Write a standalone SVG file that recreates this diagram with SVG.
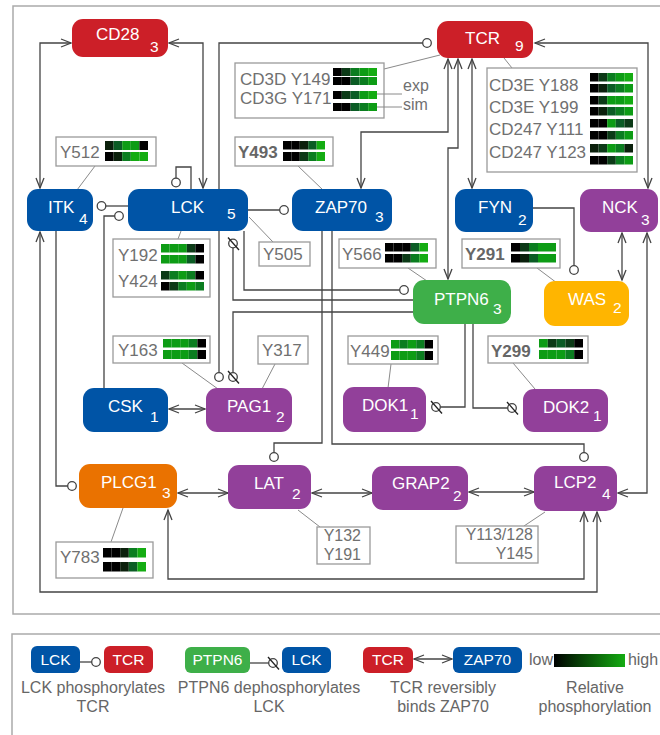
<svg xmlns="http://www.w3.org/2000/svg" width="660" height="735" viewBox="0 0 660 735">
<style>
.frame{fill:none;stroke:#aaa;stroke-width:1.5}
.nb{fill:#0054a6}.nr{fill:#cc1f28}.np{fill:#92409a}.ng{fill:#3eaf49}.no{fill:#ea7200}.ny{fill:#ffb500}
.nt{font-family:"Liberation Sans",Arial,sans-serif;font-size:17px;fill:#fff}
.ns{font-family:"Liberation Sans",Arial,sans-serif;font-size:15.5px;fill:#fff}
.lt{font-family:"Liberation Sans",Arial,sans-serif;font-size:15.5px;fill:#fff;text-anchor:middle}
.box{fill:#fff;stroke:#9a9a9a;stroke-width:1.3}
.at{font-family:"Liberation Sans",Arial,sans-serif;font-size:17px;fill:#707070}
.at2{font-family:"Liberation Sans",Arial,sans-serif;font-size:16px;fill:#707070}
.atb{font-family:"Liberation Sans",Arial,sans-serif;font-size:17px;fill:#666;font-weight:bold}
.cap{font-family:"Liberation Sans",Arial,sans-serif;font-size:16px;fill:#666;text-anchor:middle}
.c{fill:none;stroke:#444;stroke-width:1.3}
.ann{fill:none;stroke:#8a8a8a;stroke-width:1}
.k{fill:#000}.d1{fill:#0b200c}.d2{fill:#0c3a17}.d3{fill:#0b5c25}.m{fill:#0b7d20}.g{fill:#0d9c15}.b{fill:#14ac12}
</style>
<defs>
<marker id="arr" viewBox="0 0 10 10" refX="10" refY="5" markerWidth="10" markerHeight="10" markerUnits="userSpaceOnUse" orient="auto-start-reverse" overflow="visible"><path d="M0,1 L10,5 L0,9" fill="none" stroke="#444" stroke-width="1.3"/></marker>
<marker id="ph" viewBox="-6 -6 12 12" refX="0" refY="0" markerWidth="12" markerHeight="12" markerUnits="userSpaceOnUse" orient="0" overflow="visible"><circle r="4.3" fill="#fff" stroke="#444" stroke-width="1.3"/></marker>
<marker id="dp" viewBox="-7 -7 14 14" refX="0" refY="0" markerWidth="14" markerHeight="14" markerUnits="userSpaceOnUse" orient="0" overflow="visible"><circle r="4.3" fill="#fff" stroke="#444" stroke-width="1.3"/><path d="M-5,-6 L6,6.5" stroke="#222" stroke-width="1.3"/></marker>
<linearGradient id="grad" x1="0" x2="1" y1="0" y2="0"><stop offset="0" stop-color="#000"/><stop offset="1" stop-color="#14ac12"/></linearGradient>
</defs>
<rect class="frame" x="13" y="6" width="700" height="608"/>
<rect class="frame" x="12" y="634" width="700" height="130"/>

<g id="connectors">
<path class="c" d="M40,188 V43 H71" marker-start="url(#arr)" marker-end="url(#arr)"/>
<path class="c" d="M203,188 V43 H169" marker-start="url(#arr)" marker-end="url(#arr)"/>
<path class="c" d="M191,189 V167 H176 V182.5" marker-end="url(#ph)"/>
<path class="c" d="M219,189 V43 H427" marker-end="url(#ph)"/>
<path class="c" d="M128,206 H101.5" marker-end="url(#ph)"/>
<path class="c" d="M104,388 V216 H119" marker-end="url(#ph)"/>
<path class="c" d="M248,210 H284" marker-end="url(#ph)"/>
<path class="c" d="M244,231 V290 H404" marker-end="url(#ph)"/>
<path class="c" d="M413,300 H233 V243.5" marker-end="url(#dp)"/>
<path class="c" d="M413,312 H233 V377" marker-end="url(#dp)"/>
<path class="c" d="M219,231 V377" marker-end="url(#ph)"/>
<path class="c" d="M448,59 V132 H361 V188" marker-start="url(#arr)" marker-end="url(#arr)"/>
<path class="c" d="M458,59 V148 H448 V279" marker-start="url(#arr)" marker-end="url(#arr)"/>
<path class="c" d="M472,59 V188" marker-start="url(#arr)" marker-end="url(#arr)"/>
<path class="c" d="M535,43 H648 V188" marker-start="url(#arr)" marker-end="url(#arr)"/>
<path class="c" d="M622,233 V280" marker-start="url(#arr)" marker-end="url(#arr)"/>
<path class="c" d="M533,208 H574 V270" marker-end="url(#ph)"/>
<path class="c" d="M647,233 V493 H618" marker-start="url(#arr)" marker-end="url(#arr)"/>
<path class="c" d="M322,231 V443 H274 V457" marker-end="url(#ph)"/>
<path class="c" d="M332,231 V444 H584 V457" marker-end="url(#ph)"/>
<path class="c" d="M465,324 V407 H436" marker-end="url(#dp)"/>
<path class="c" d="M473,324 V408 H512" marker-end="url(#dp)"/>
<path class="c" d="M169,409 H205" marker-start="url(#arr)" marker-end="url(#arr)"/>
<path class="c" d="M40,232 V592 H597 V512" marker-start="url(#arr)" marker-end="url(#arr)"/>
<path class="c" d="M56,231 V486 H72" marker-end="url(#ph)"/>
<path class="c" d="M168,510 V579 H584 V512" marker-start="url(#arr)" marker-end="url(#arr)"/>
<path class="c" d="M178,493 H228" marker-start="url(#arr)" marker-end="url(#arr)"/>
<path class="c" d="M312,493 H372" marker-start="url(#arr)" marker-end="url(#arr)"/>
<path class="c" d="M469,492 H534" marker-start="url(#arr)" marker-end="url(#arr)"/>
<path class="ann" d="M95,166 L77,190"/>
<path class="ann" d="M384,69 L440,55"/>
<path class="ann" d="M298,166 L323,190"/>
<path class="ann" d="M512,68 L504,58"/>
<path class="ann" d="M178,239 L181,231"/>
<path class="ann" d="M273,242 L249,217"/>
<path class="ann" d="M408,268 L427,281"/>
<path class="ann" d="M537,268 L557,283"/>
<path class="ann" d="M182,363 L218,389"/>
<path class="ann" d="M275,364 L262,389"/>
<path class="ann" d="M391,364 L388,388"/>
<path class="ann" d="M513,363 L535,389"/>
<path class="ann" d="M298,510 L320,527"/>
<path class="ann" d="M524,526 L545,512"/>
<path class="ann" d="M111,542 L123,508"/>
</g>

<g id="node-CD28"><rect class="nr" x="72" y="19" width="96" height="38" rx="11"/><text class="nt" x="96" y="40">CD28</text><text class="ns" x="150" y="52">3</text></g>
<g id="node-TCR"><rect class="nr" x="437" y="21" width="96" height="37" rx="11"/><text class="nt" x="465" y="44">TCR</text><text class="ns" x="515" y="51">9</text></g>
<g id="node-ITK"><rect class="nb" x="27" y="189" width="66" height="42" rx="11"/><text class="nt" x="48" y="213">ITK</text><text class="ns" x="79" y="224">4</text></g>
<g id="node-LCK"><rect class="nb" x="128" y="189" width="120" height="42" rx="11"/><text class="nt" x="171" y="213">LCK</text><text class="ns" x="227" y="219">5</text></g>
<g id="node-ZAP70"><rect class="nb" x="292" y="189" width="100" height="42" rx="11"/><text class="nt" x="315" y="213">ZAP70</text><text class="ns" x="375" y="222">3</text></g>
<g id="node-FYN"><rect class="nb" x="455" y="189" width="78" height="43" rx="11"/><text class="nt" x="478" y="213">FYN</text><text class="ns" x="518" y="225">2</text></g>
<g id="node-NCK"><rect class="np" x="580" y="189" width="78" height="43" rx="11"/><text class="nt" x="602" y="213">NCK</text><text class="ns" x="641" y="225">3</text></g>
<g id="node-PTPN6"><rect class="ng" x="413" y="280" width="98" height="44" rx="11"/><text class="nt" x="434" y="305">PTPN6</text><text class="ns" x="493" y="314">3</text></g>
<g id="node-WAS"><rect class="ny" x="544" y="281" width="85" height="45" rx="11"/><text class="nt" x="568" y="305">WAS</text><text class="ns" x="613" y="313">2</text></g>
<g id="node-CSK"><rect class="nb" x="83" y="388" width="85" height="44" rx="11"/><text class="nt" x="108" y="412">CSK</text><text class="ns" x="150" y="422">1</text></g>
<g id="node-PAG1"><rect class="np" x="206" y="388" width="86" height="44" rx="11"/><text class="nt" x="227" y="412">PAG1</text><text class="ns" x="276" y="422">2</text></g>
<g id="node-DOK1"><rect class="np" x="343" y="387" width="83" height="45" rx="11"/><text class="nt" x="362" y="411">DOK1</text><text class="ns" x="410" y="419">1</text></g>
<g id="node-DOK2"><rect class="np" x="523" y="389" width="85" height="43" rx="11"/><text class="nt" x="543" y="413">DOK2</text><text class="ns" x="593" y="421">1</text></g>
<g id="node-PLCG1"><rect class="no" x="79" y="464" width="98" height="44" rx="11"/><text class="nt" x="101" y="488">PLCG1</text><text class="ns" x="162" y="498">3</text></g>
<g id="node-LAT"><rect class="np" x="228" y="465" width="83" height="44" rx="11"/><text class="nt" x="254" y="489">LAT</text><text class="ns" x="292" y="499">2</text></g>
<g id="node-GRAP2"><rect class="np" x="372" y="466" width="96" height="44" rx="11"/><text class="nt" x="392" y="489">GRAP2</text><text class="ns" x="453" y="501">2</text></g>
<g id="node-LCP2"><rect class="np" x="534" y="466" width="83" height="45" rx="11"/><text class="nt" x="554" y="488">LCP2</text><text class="ns" x="602" y="499">4</text></g>

<g id="ann-Y512"><rect class="box" x="56" y="137" width="100" height="29"/><text class="at" x="60" y="158">Y512</text>
<g transform="translate(105,141)"><rect class="d1" x="0" width="8.6" height="9"/><rect class="d3" x="8.6" width="8.6" height="9"/><rect class="g" x="17.2" width="8.6" height="9"/><rect class="g" x="25.8" width="8.6" height="9"/><rect class="k" x="34.4" width="8.6" height="9"/></g>
<g transform="translate(105,152)"><rect class="k" x="0" width="8.6" height="9"/><rect class="d1" x="8.6" width="8.6" height="9"/><rect class="m" x="17.2" width="8.6" height="9"/><rect class="b" x="25.8" width="8.6" height="9"/><rect class="b" x="34.4" width="8.6" height="9"/></g>
</g>
<g id="ann-CD3"><rect class="box" x="235" y="63" width="149" height="55"/><text class="at" x="240" y="85">CD3D Y149</text><text class="at" x="240" y="104">CD3G Y171</text>
<g transform="translate(333,68)"><rect class="k" x="0" width="8.8" height="8"/><rect class="d2" x="8.8" width="8.8" height="8"/><rect class="m" x="17.6" width="8.8" height="8"/><rect class="g" x="26.4" width="8.8" height="8"/><rect class="b" x="35.2" width="8.8" height="8"/></g>
<g transform="translate(333,77)"><rect class="k" x="0" width="8.8" height="8"/><rect class="k" x="8.8" width="8.8" height="8"/><rect class="d3" x="17.6" width="8.8" height="8"/><rect class="m" x="26.4" width="8.8" height="8"/><rect class="g" x="35.2" width="8.8" height="8"/></g>
<g transform="translate(333,91)"><rect class="k" x="0" width="8.8" height="8"/><rect class="d2" x="8.8" width="8.8" height="8"/><rect class="d3" x="17.6" width="8.8" height="8"/><rect class="g" x="26.4" width="8.8" height="8"/><rect class="b" x="35.2" width="8.8" height="8"/></g>
<g transform="translate(333,103)"><rect class="k" x="0" width="8.8" height="8"/><rect class="k" x="8.8" width="8.8" height="8"/><rect class="d3" x="17.6" width="8.8" height="8"/><rect class="m" x="26.4" width="8.8" height="8"/><rect class="g" x="35.2" width="8.8" height="8"/></g>
<path class="ann" d="M377,94 H402 M377,107 H402"/>
<text class="at2" x="403" y="91">exp</text><text class="at2" x="403" y="110">sim</text>
</g>
<g id="ann-Y493"><rect class="box" x="235" y="137" width="98" height="29"/><text class="atb" x="238" y="158">Y493</text>
<g transform="translate(283,141)"><rect class="k" x="0" width="8.4" height="8.5"/><rect class="k" x="8.4" width="8.4" height="8.5"/><rect class="d1" x="16.8" width="8.4" height="8.5"/><rect class="d3" x="25.2" width="8.4" height="8.5"/><rect class="b" x="33.6" width="8.4" height="8.5"/></g>
<g transform="translate(283,152)"><rect class="k" x="0" width="8.4" height="9"/><rect class="k" x="8.4" width="8.4" height="9"/><rect class="d2" x="16.8" width="8.4" height="9"/><rect class="m" x="25.2" width="8.4" height="9"/><rect class="b" x="33.6" width="8.4" height="9"/></g>
</g>
<g id="ann-CD3E"><rect class="box" x="487" y="68" width="150" height="104"/>
<text class="at" x="489" y="91">CD3E Y188</text><text class="at" x="489" y="113">CD3E Y199</text><text class="at" x="489" y="135">CD247 Y111</text><text class="at" x="489" y="158">CD247 Y123</text>
<g transform="translate(590,73)"><rect class="k" x="0" width="8.6" height="8.5"/><rect class="d2" x="8.6" width="8.6" height="8.5"/><rect class="m" x="17.2" width="8.6" height="8.5"/><rect class="g" x="25.8" width="8.6" height="8.5"/><rect class="b" x="34.4" width="8.6" height="8.5"/></g>
<g transform="translate(590,84)"><rect class="k" x="0" width="8.6" height="8.5"/><rect class="d1" x="8.6" width="8.6" height="8.5"/><rect class="d3" x="17.2" width="8.6" height="8.5"/><rect class="m" x="25.8" width="8.6" height="8.5"/><rect class="g" x="34.4" width="8.6" height="8.5"/></g>
<g transform="translate(590,96)"><rect class="k" x="0" width="8.6" height="8.5"/><rect class="d2" x="8.6" width="8.6" height="8.5"/><rect class="g" x="17.2" width="8.6" height="8.5"/><rect class="g" x="25.8" width="8.6" height="8.5"/><rect class="b" x="34.4" width="8.6" height="8.5"/></g>
<g transform="translate(590,107)"><rect class="k" x="0" width="8.6" height="8.5"/><rect class="d1" x="8.6" width="8.6" height="8.5"/><rect class="d3" x="17.2" width="8.6" height="8.5"/><rect class="m" x="25.8" width="8.6" height="8.5"/><rect class="g" x="34.4" width="8.6" height="8.5"/></g>
<g transform="translate(590,119)"><rect class="k" x="0" width="8.6" height="8.5"/><rect class="k" x="8.6" width="8.6" height="8.5"/><rect class="g" x="17.2" width="8.6" height="8.5"/><rect class="d3" x="25.8" width="8.6" height="8.5"/><rect class="d2" x="34.4" width="8.6" height="8.5"/></g>
<g transform="translate(590,131)"><rect class="k" x="0" width="8.6" height="8.5"/><rect class="k" x="8.6" width="8.6" height="8.5"/><rect class="d2" x="17.2" width="8.6" height="8.5"/><rect class="m" x="25.8" width="8.6" height="8.5"/><rect class="g" x="34.4" width="8.6" height="8.5"/></g>
<g transform="translate(590,144)"><rect class="d1" x="0" width="8.6" height="8.5"/><rect class="d2" x="8.6" width="8.6" height="8.5"/><rect class="g" x="17.2" width="8.6" height="8.5"/><rect class="m" x="25.8" width="8.6" height="8.5"/><rect class="d1" x="34.4" width="8.6" height="8.5"/></g>
<g transform="translate(590,156)"><rect class="k" x="0" width="8.6" height="8.5"/><rect class="k" x="8.6" width="8.6" height="8.5"/><rect class="d2" x="17.2" width="8.6" height="8.5"/><rect class="m" x="25.8" width="8.6" height="8.5"/><rect class="g" x="34.4" width="8.6" height="8.5"/></g>
</g>
<g id="ann-Y192"><rect class="box" x="113" y="239" width="97" height="58"/><text class="at" x="118" y="261">Y192</text><text class="at" x="118" y="287">Y424</text>
<g transform="translate(161,244)"><rect class="g" x="0" width="8.6" height="8.5"/><rect class="g" x="8.6" width="8.6" height="8.5"/><rect class="g" x="17.2" width="8.6" height="8.5"/><rect class="d2" x="25.8" width="8.6" height="8.5"/><rect class="k" x="34.4" width="8.6" height="8.5"/></g>
<g transform="translate(161,255)"><rect class="g" x="0" width="8.6" height="8.5"/><rect class="g" x="8.6" width="8.6" height="8.5"/><rect class="g" x="17.2" width="8.6" height="8.5"/><rect class="d3" x="25.8" width="8.6" height="8.5"/><rect class="k" x="34.4" width="8.6" height="8.5"/></g>
<g transform="translate(161,271)"><rect class="d2" x="0" width="8.6" height="8.5"/><rect class="m" x="8.6" width="8.6" height="8.5"/><rect class="g" x="17.2" width="8.6" height="8.5"/><rect class="m" x="25.8" width="8.6" height="8.5"/><rect class="k" x="34.4" width="8.6" height="8.5"/></g>
<g transform="translate(161,282)"><rect class="k" x="0" width="8.6" height="8.5"/><rect class="d2" x="8.6" width="8.6" height="8.5"/><rect class="m" x="17.2" width="8.6" height="8.5"/><rect class="g" x="25.8" width="8.6" height="8.5"/><rect class="m" x="34.4" width="8.6" height="8.5"/></g>
</g>
<g id="ann-Y505"><rect class="box" x="259" y="242" width="51" height="24"/><text class="at" x="263" y="260">Y505</text></g>
<g id="ann-Y566"><rect class="box" x="339" y="239" width="97" height="29"/><text class="at" x="342" y="260">Y566</text>
<g transform="translate(385,243)"><rect class="k" x="0" width="8.6" height="8.5"/><rect class="k" x="8.6" width="8.6" height="8.5"/><rect class="k" x="17.2" width="8.6" height="8.5"/><rect class="d3" x="25.8" width="8.6" height="8.5"/><rect class="b" x="34.4" width="8.6" height="8.5"/></g>
<g transform="translate(385,254)"><rect class="k" x="0" width="8.6" height="8.5"/><rect class="k" x="8.6" width="8.6" height="8.5"/><rect class="d2" x="17.2" width="8.6" height="8.5"/><rect class="m" x="25.8" width="8.6" height="8.5"/><rect class="b" x="34.4" width="8.6" height="8.5"/></g>
</g>
<g id="ann-Y291"><rect class="box" x="462" y="239" width="98" height="29"/><text class="atb" x="465" y="260">Y291</text>
<g transform="translate(511,243)"><rect class="k" x="0" width="9" height="8.5"/><rect class="d2" x="9" width="9" height="8.5"/><rect class="m" x="18" width="9" height="8.5"/><rect class="g" x="27" width="9" height="8.5"/><rect class="g" x="36" width="9" height="8.5"/></g>
<g transform="translate(511,254)"><rect class="k" x="0" width="9" height="8.5"/><rect class="d1" x="9" width="9" height="8.5"/><rect class="d3" x="18" width="9" height="8.5"/><rect class="g" x="27" width="9" height="8.5"/><rect class="g" x="36" width="9" height="8.5"/></g>
</g>
<g id="ann-Y163"><rect class="box" x="113" y="336" width="97" height="27"/><text class="at" x="118" y="356">Y163</text>
<g transform="translate(163,339)"><rect class="g" x="0" width="8.6" height="8.5"/><rect class="g" x="8.6" width="8.6" height="8.5"/><rect class="g" x="17.2" width="8.6" height="8.5"/><rect class="m" x="25.8" width="8.6" height="8.5"/><rect class="k" x="34.4" width="8.6" height="8.5"/></g>
<g transform="translate(163,350)"><rect class="g" x="0" width="8.6" height="9"/><rect class="g" x="8.6" width="8.6" height="9"/><rect class="g" x="17.2" width="8.6" height="9"/><rect class="m" x="25.8" width="8.6" height="9"/><rect class="k" x="34.4" width="8.6" height="9"/></g>
</g>
<g id="ann-Y317"><rect class="box" x="258" y="336" width="50" height="28"/><text class="at" x="262" y="356">Y317</text></g>
<g id="ann-Y449"><rect class="box" x="348" y="336" width="90" height="28"/><text class="at" x="350" y="357">Y449</text>
<g transform="translate(391,340)"><rect class="g" x="0" width="8.4" height="8.5"/><rect class="m" x="8.4" width="8.4" height="8.5"/><rect class="g" x="16.8" width="8.4" height="8.5"/><rect class="m" x="25.2" width="8.4" height="8.5"/><rect class="k" x="33.6" width="8.4" height="8.5"/></g>
<g transform="translate(391,351)"><rect class="g" x="0" width="8.4" height="9"/><rect class="g" x="8.4" width="8.4" height="9"/><rect class="g" x="16.8" width="8.4" height="9"/><rect class="m" x="25.2" width="8.4" height="9"/><rect class="k" x="33.6" width="8.4" height="9"/></g>
</g>
<g id="ann-Y299"><rect class="box" x="488" y="336" width="100" height="27"/><text class="atb" x="491" y="357">Y299</text>
<g transform="translate(539,339)"><rect class="g" x="0" width="8.8" height="8.5"/><rect class="d2" x="8.8" width="8.8" height="8.5"/><rect class="d3" x="17.6" width="8.8" height="8.5"/><rect class="d2" x="26.4" width="8.8" height="8.5"/><rect class="k" x="35.2" width="8.8" height="8.5"/></g>
<g transform="translate(539,350)"><rect class="g" x="0" width="8.8" height="9"/><rect class="g" x="8.8" width="8.8" height="9"/><rect class="g" x="17.6" width="8.8" height="9"/><rect class="m" x="26.4" width="8.8" height="9"/><rect class="k" x="35.2" width="8.8" height="9"/></g>
</g>
<g id="ann-Y132"><rect class="box" x="317" y="527" width="53" height="37"/><text class="at2" x="361" y="541" text-anchor="end">Y132</text><text class="at2" x="361" y="560" text-anchor="end">Y191</text></g>
<g id="ann-Y113"><rect class="box" x="456" y="526" width="82" height="37"/><text class="at2" x="533" y="540" text-anchor="end">Y113/128</text><text class="at2" x="533" y="559" text-anchor="end">Y145</text></g>
<g id="ann-Y783"><rect class="box" x="56" y="542" width="97" height="36"/><text class="at" x="60" y="563">Y783</text>
<g transform="translate(103,548)"><rect class="k" x="0" width="8.6" height="9.5"/><rect class="k" x="8.6" width="8.6" height="9.5"/><rect class="d1" x="17.2" width="8.6" height="9.5"/><rect class="m" x="25.8" width="8.6" height="9.5"/><rect class="b" x="34.4" width="8.6" height="9.5"/></g>
<g transform="translate(103,562)"><rect class="k" x="0" width="8.6" height="9.5"/><rect class="k" x="8.6" width="8.6" height="9.5"/><rect class="d1" x="17.2" width="8.6" height="9.5"/><rect class="d3" x="25.8" width="8.6" height="9.5"/><rect class="b" x="34.4" width="8.6" height="9.5"/></g>
</g>

<g id="legend">
<g id="legend-phos">
<path class="c" d="M80,662 H96" marker-end="url(#ph)"/>
<rect class="nb" x="31" y="646" width="49" height="27" rx="6"/><text class="lt" x="55.5" y="665">LCK</text>
<rect class="nr" x="104" y="646" width="49" height="27" rx="6"/><text class="lt" x="128.5" y="665">TCR</text>
<text class="cap" x="93" y="693">LCK phosphorylates</text><text class="cap" x="93" y="712">TCR</text>
</g>
<g id="legend-dephos">
<path class="c" d="M250,663 H273" marker-end="url(#dp)"/>
<rect class="ng" x="185" y="647" width="65" height="26" rx="6"/><text class="lt" x="217.5" y="665">PTPN6</text>
<rect class="nb" x="282" y="647" width="49" height="26" rx="6"/><text class="lt" x="306.5" y="665">LCK</text>
<text class="cap" x="269" y="693">PTPN6 dephosphorylates</text><text class="cap" x="269" y="712">LCK</text>
</g>
<g id="legend-bind">
<path class="c" d="M414,659 H452" marker-start="url(#arr)" marker-end="url(#arr)"/>
<rect class="nr" x="363" y="647" width="50" height="26" rx="6"/><text class="lt" x="388" y="665">TCR</text>
<rect class="nb" x="453" y="647" width="69" height="26" rx="6"/><text class="lt" x="487.5" y="665">ZAP70</text>
<text class="cap" x="443" y="693">TCR reversibly</text><text class="cap" x="443" y="712">binds ZAP70</text>
</g>
<g id="legend-scale">
<text class="cap" x="541" y="665">low</text>
<rect x="554" y="654" width="71" height="13" fill="url(#grad)"/>
<text class="cap" x="643" y="665">high</text>
<text class="cap" x="595" y="693">Relative</text><text class="cap" x="595" y="712">phosphorylation</text>
</g>
</g>
</svg>
